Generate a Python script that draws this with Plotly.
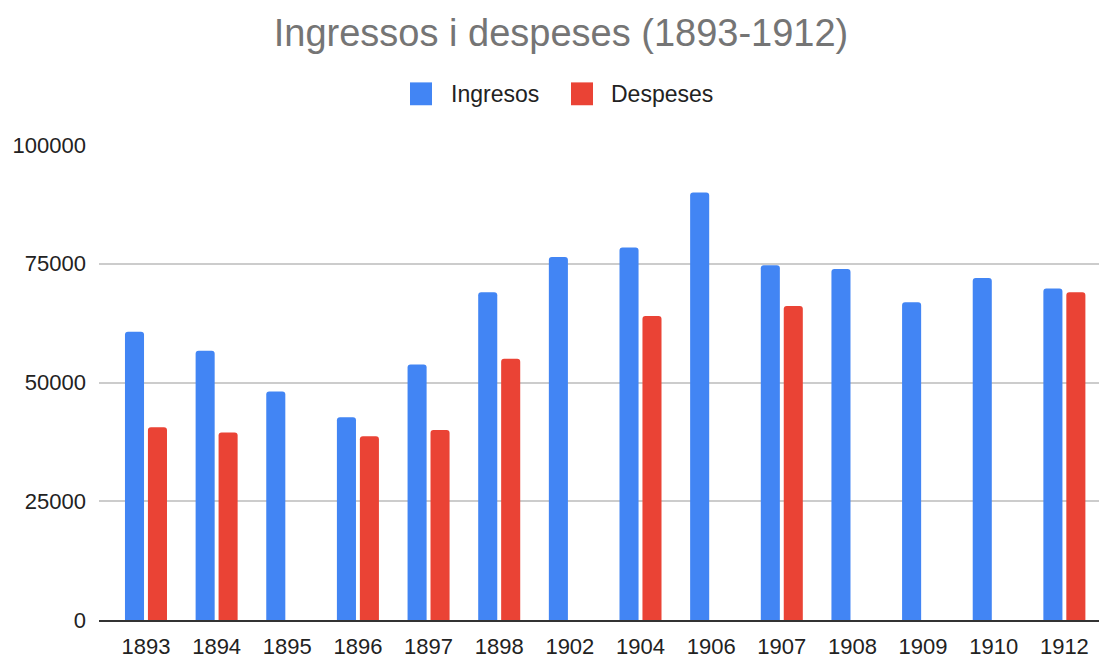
import plotly.graph_objects as go

years = ["1893", "1894", "1895", "1896", "1897", "1898", "1902", "1904",
         "1906", "1907", "1908", "1909", "1910", "1912"]
ingresos = [60700, 56700, 48100, 42700, 53800, 69000, 76400, 78400,
            90000, 74700, 73900, 66900, 72000, 69800]
despeses = [40600, 39500, None, 38700, 40000, 55000, None, 64000,
            None, 66100, None, None, None, 69000]
y_ticks = [0, 25000, 50000, 75000, 100000]

BLUE = "#4285F4"
RED = "#EA4335"
FONT = "Liberation Sans, Arial, sans-serif"

fig = go.Figure()
fig.add_trace(go.Bar(x=years, y=ingresos, name="Ingresos", marker_color=BLUE,
                     marker_line_width=0))
fig.add_trace(go.Bar(x=years, y=despeses, name="Despeses", marker_color=RED,
                     marker_line_width=0))

W, H = 1099, 659
fig.update_layout(
    width=W, height=H,
    margin=dict(l=99, r=0, t=145, b=36, pad=0),
    paper_bgcolor="white", plot_bgcolor="white",
    barmode="group", bargap=0.35, bargroupgap=0.17, barcornerradius=3,
    showlegend=False,
    font=dict(family=FONT, size=22, color="#222222"),
    title=dict(text="Ingressos i despeses (1893-1912)", x=561 / W, xref="container",
               xanchor="center", y=1 - 33 / H, yref="container", yanchor="middle",
               font=dict(family=FONT, size=38, color="#757575")),
    xaxis=dict(type="category", range=[-0.665, 13.49], showgrid=False,
               showline=True, linecolor="#333333", linewidth=1.5,
               ticks="", tickfont=dict(size=22, color="#222222"),
               ticklabelstandoff=6),
    yaxis=dict(range=[0, 100000], tickvals=y_ticks, tickformat="d",
               showgrid=True, gridcolor="#cccccc", gridwidth=1.5,
               zeroline=False, showline=False, ticks="",
               tickfont=dict(size=22, color="#222222"), ticklabelstandoff=12),
)

# legend drawn manually (larger square swatches)
legend_items = [("Ingresos", BLUE, 410, 449), ("Despeses", RED, 571, 609)]
for label, color, sx, tx in legend_items:
    fig.add_shape(type="rect", xref="paper", yref="paper",
                  x0=(sx - 99) / 1000, x1=(sx + 22 - 99) / 1000,
                  y0=(623 - 105) / 478, y1=(623 - 82) / 478,
                  fillcolor=color, line=dict(width=0), layer="above")
    fig.add_annotation(text=label, xref="paper", yref="paper",
                       x=(tx - 99) / 1000, y=(623 - 93.5) / 478,
                       xanchor="left", yanchor="middle", showarrow=False,
                       font=dict(family=FONT, size=23, color="#222222"))

fig.write_html("out.html", config={"displayModeBar": False},
               post_script="document.body.style.margin='0';document.body.style.overflow='hidden';")
